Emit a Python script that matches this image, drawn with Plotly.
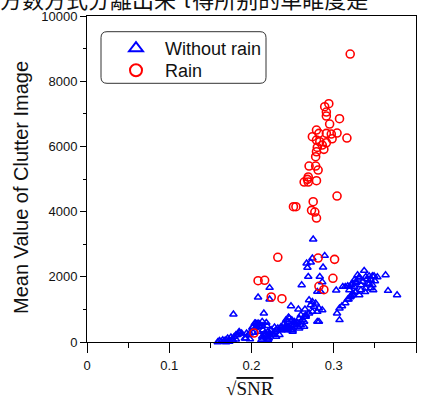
import plotly.graph_objects as go

# ---- data ----
norain_x = [0.159,0.161,0.163,0.165,0.167,0.169,0.169,0.171,0.173,0.173,0.175,0.177,0.177,0.179,0.181,0.181,0.183,0.185,0.185,0.188,0.192,0.193,0.194,0.196,0.198,0.198,0.178,
 0.201,0.202,0.202,0.204,0.205,0.206,0.206,0.208,0.208,0.209,0.210,0.210,0.212,0.213,0.213,0.213,0.214,0.214,0.215,0.216,0.216,0.217,0.218,0.218,0.219,0.220,0.220,0.220,0.221,0.222,0.222,0.224,0.226,0.226,0.228,0.228,0.230,0.230,0.232,0.234,0.236,0.236,0.236,0.238,0.240,0.240,0.242,0.242,0.242,0.244,0.244,0.245,0.245,0.246,0.246,0.248,0.248,0.249,0.250,0.250,0.252,0.252,0.252,0.256,0.256,0.258,0.258,0.260,0.260,0.260,0.262,0.264,0.264,0.264,0.266,0.266,0.280,0.282,0.307,
 0.208,0.222,0.222,0.248,0.257,0.265,0.270,0.270,0.272,0.274,0.274,0.276,0.278,0.280,0.282,0.286,0.261,0.267,0.268,0.269,0.272,0.274,0.275,0.283,0.286,0.287,0.289,0.280,0.284,0.303,
 0.304,0.307,0.310,0.314,0.317,0.318,0.320,0.321,0.323,0.323,0.326,0.327,0.331,0.333,0.338,0.339,0.311,0.314,0.317,0.319,0.319,0.321,0.323,0.325,0.325,0.327,0.327,0.329,0.331,0.331,0.333,0.335,0.337,0.339,0.341,0.341,0.343,0.343,0.345,0.345,0.347,0.347,0.348,0.349,0.350,0.353,0.363,0.366,0.377]
norain_y = [0,40,10,61,40,0,61,112,10,61,143,40,82,163,215,82,215,266,317,266,112,112,266,215,92,266,849,
 440,286,470,573,573,470,552,317,573,491,470,552,61,163,491,624,112,368,880,215,266,215,163,593,491,61,112,317,112,215,266,368,215,266,317,450,163,368,419,215,368,419,470,368,419,573,419,470,675,368,624,470,757,419,726,368,521,675,317,368,521,573,624,470,573,419,726,521,624,828,675,470,624,776,776,828,624,624,675,
 1371,1310,1665,1104,1003,1003,880,1288,1135,929,1236,1083,1187,929,1034,981,1748,2414,2279,2003,2444,2567,3150,2003,1840,2291,2647,1543,1543,1586,
 880,1034,1104,1196,1309,1310,1380,1411,1441,1494,1534,1543,1441,1595,1534,1647,1696,1696,1717,1696,1595,1748,1800,1696,1902,1810,1850,2055,1953,1994,1748,1850,2187,2003,1800,1932,1779,2024,1656,1902,1748,2024,1595,2024,1871,1994,2055,1573,1441]

rain_x = [0.203,0.208,0.216,0.224,0.237,0.232,0.281,0.301,0.299,0.282,0.288,
 0.320,0.294,0.289,0.291,0.291,0.307,0.295,0.279,0.282,0.291,0.297,0.304,0.274,0.298,0.316,0.279,0.283,0.291,0.286,0.280,0.288,0.279,0.278,0.270,0.278,0.281,0.269,0.268,0.264,0.269,0.279,0.304,0.251,0.254,0.275,0.273,0.277,0.279]
rain_y = [276,1880,1892,1380,1328,2598,2576,2536,1954,1708,1604,
 8833,7309,7217,7054,6931,6849,6686,6502,6400,6400,6379,6410,6298,6235,6257,6195,6143,6112,6042,5970,5909,5836,5683,5398,5398,5275,5061,4990,4907,4907,4947,4478,4150,4150,4303,4039,3987,3803]

series_names = ["Without rain", "Rain"]
x_ticks = [0, 0.1, 0.2, 0.3, 0.4]
y_ticks = [0, 2000, 4000, 6000, 8000, 10000]

# ---- figure ----
W, H = 424, 396
ML, MR, MT, MB = 87, 8, 16, 54
PW, PH = W - ML - MR, H - MT - MB

def px2paper(px, py):
    return (px - ML) / PW, (H - MB - py) / PH

fig = go.Figure()
fig.add_trace(go.Scatter(x=norain_x, y=norain_y, mode="markers", name=series_names[0],
                         cliponaxis=False, legend="legend",
                         marker=dict(symbol="triangle-up-open", size=6.5, color="#0000FF",
                                     line=dict(width=1.5, color="#0000FF"))))
fig.add_trace(go.Scatter(x=rain_x, y=rain_y, mode="markers", name=series_names[1],
                         cliponaxis=False, legend="legend2",
                         marker=dict(symbol="circle-open", size=8, color="#FF0000",
                                     line=dict(width=1.6, color="#FF0000"))))

# rounded legend frame
x0, y0 = px2paper(101, 83.3)
x1, y1 = px2paper(266, 31.7)
rx, ry = 6 / PW, 6 / PH
path = (f"M {x0+rx},{y0} L {x1-rx},{y0} Q {x1},{y0} {x1},{y0+ry} "
        f"L {x1},{y1-ry} Q {x1},{y1} {x1-rx},{y1} L {x0+rx},{y1} Q {x0},{y1} {x0},{y1-ry} "
        f"L {x0},{y0+ry} Q {x0},{y0} {x0+rx},{y0} Z")
fig.add_shape(type="path", path=path, xref="paper", yref="paper",
              line=dict(color="#333333", width=1), fillcolor="white", layer="above")

leg_font = dict(size=18, family="Liberation Sans, Arial", color="#111111")
l1x, l1y = px2paper(107, 30)
l2x, l2y = px2paper(107, 52)
fig.update_layout(
    width=W, height=H,
    margin=dict(l=ML, r=MR, t=MT, b=MB, autoexpand=False),
    plot_bgcolor="white", paper_bgcolor="white",
    font=dict(family="Liberation Sans, Arial", color="#111111"),
    showlegend=True,
    legend=dict(x=l1x, y=l1y, xanchor="left", yanchor="top", bgcolor="rgba(0,0,0,0)",
                borderwidth=0, font=leg_font, itemsizing="constant", itemwidth=48),
    legend2=dict(x=l2x, y=l2y, xanchor="left", yanchor="top", bgcolor="rgba(0,0,0,0)",
                 borderwidth=0, font=leg_font, itemsizing="constant", itemwidth=48),
    xaxis=dict(range=[0, 0.4], tickvals=x_ticks, ticktext=[str(v) for v in x_ticks],
               automargin=False,
               showgrid=False, zeroline=False, showline=True, linecolor="black", linewidth=1,
               mirror=True, ticks="outside", ticklen=10, tickwidth=1, tickcolor="black",
               tickfont=dict(size=13), ticklabelstandoff=1,
               minor=dict(dtick=0.05, ticks="outside", ticklen=5, tickcolor="black", tickwidth=1, showgrid=False)),
    yaxis=dict(range=[0, 10000], tickvals=y_ticks, ticktext=[str(v) for v in y_ticks],
               automargin=False,
               showgrid=False, zeroline=False, showline=True, linecolor="black", linewidth=1,
               mirror=True, ticks="outside", ticklen=6, tickwidth=1, tickcolor="black",
               tickfont=dict(size=13),
               minor=dict(dtick=1000, ticks="outside", ticklen=3, tickcolor="black", tickwidth=1, showgrid=False)),
)

# axis titles as annotations for exact placement
yx, yy = px2paper(21, 188)
fig.add_annotation(text="Mean Value of Clutter Image", xref="paper", yref="paper",
                   x=yx, y=yy, xanchor="center", yanchor="middle", textangle=-90,
                   showarrow=False, font=dict(size=20, family="Liberation Sans, Arial", color="#111111"))
xx, xy = px2paper(250, 388)
fig.add_annotation(text="√<span style='text-decoration:overline'>SNR</span>", xref="paper", yref="paper",
                   x=xx, y=xy, xanchor="center", yanchor="middle", showarrow=False,
                   font=dict(family="Liberation Serif, Times New Roman", size=19, color="#111111"))

# clipped page text at the very top
tx, ty = px2paper(-2, -2)
fig.add_annotation(text="方数方式分離出来 τ得所别的单睢度是", xref="paper", yref="paper",
                   x=tx, y=ty, xanchor="left", yanchor="middle", showarrow=False,
                   font=dict(family="Noto Sans CJK SC", size=22, color="#111111"))

fig.write_html("out.html")
